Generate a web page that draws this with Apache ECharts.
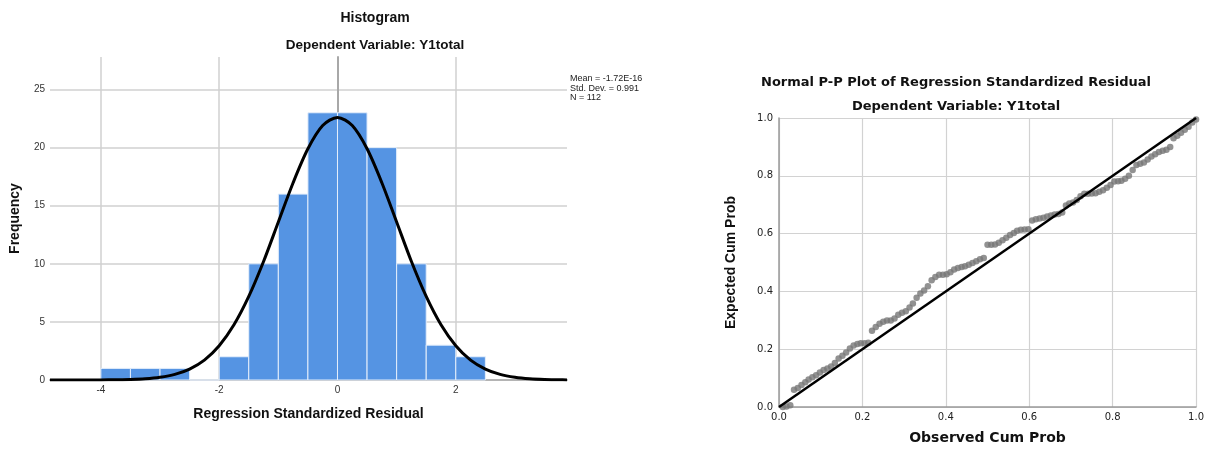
<!DOCTYPE html>
<html>
<head>
<meta charset="utf-8">
<script src="https://cdn.jsdelivr.net/npm/echarts@6/dist/echarts.min.js"></script>
<style>
html,body{margin:0;padding:0;background:#fff;}
#chart{width:1207px;height:450px;}
</style>
</head>
<body>
<div id="chart"></div>
<script>
// ---------- Histogram data ----------
const binStart = [-4, -3.5, -3, -2.5, -2, -1.5, -1, -0.5, 0, 0.5, 1, 1.5, 2];
const binEnd   = [-3.5, -3, -2.5, -2, -1.5, -1, -0.5, 0, 0.5, 1, 1.5, 2, 2.5];
const frequency = [1, 1, 1, 0, 2, 10, 16, 23, 23, 20, 10, 3, 2];
const histXTicks = [-4, -2, 0, 2];
const histYTicks = [5, 10, 15, 20, 25];

// normal curve
const curveX = [-4.86, -4.5, -4.25, -4, -3.75, -3.5, -3.25, -3, -2.75, -2.5, -2.25, -2, -1.75, -1.5, -1.25, -1, -0.75, -0.5, -0.25, 0,
                0.25, 0.5, 0.75, 1, 1.25, 1.5, 1.75, 2, 2.25, 2.5, 2.75, 3, 3.25, 3.5, 3.75, 3.88];
const curveY = [0.00, 0.00, 0.00, 0.01, 0.02, 0.04, 0.10, 0.23, 0.48, 0.94, 1.71, 2.95, 4.75, 7.19, 10.2, 13.6, 16.98, 19.9, 21.9, 22.6,
                21.9, 19.9, 16.98, 13.6, 10.2, 7.19, 4.75, 2.95, 1.71, 0.94, 0.48, 0.23, 0.10, 0.04, 0.02, 0.01];

const statsLines = ['Mean = -1.72E-16', 'Std. Dev. = 0.991', 'N = 112'];

// ---------- P-P plot data ----------
const observedCumProb = [
 0.009,0.018,0.027,0.036,0.045,0.054,0.063,0.071,0.080,0.089,
 0.098,0.107,0.116,0.125,0.134,0.143,0.152,0.161,0.170,0.179,
 0.188,0.196,0.205,0.214,0.223,0.232,0.241,0.250,0.259,0.268,
 0.277,0.286,0.295,0.304,0.313,0.321,0.330,0.339,0.348,0.357,
 0.366,0.375,0.384,0.393,0.402,0.411,0.420,0.429,0.438,0.446,
 0.455,0.464,0.473,0.482,0.491,0.500,0.509,0.518,0.527,0.536,
 0.545,0.554,0.563,0.571,0.580,0.589,0.598,0.607,0.616,0.625,
 0.634,0.643,0.652,0.661,0.670,0.679,0.688,0.696,0.705,0.714,
 0.723,0.732,0.741,0.750,0.759,0.768,0.777,0.786,0.795,0.804,
 0.813,0.821,0.830,0.839,0.848,0.857,0.866,0.875,0.884,0.893,
 0.902,0.911,0.920,0.929,0.938,0.946,0.955,0.964,0.973,0.982,
 0.991,1.000];
const expectedCumProb = [
 0.000,0.002,0.006,0.060,0.066,0.076,0.086,0.095,0.103,0.110,
 0.119,0.128,0.133,0.140,0.152,0.168,0.177,0.189,0.202,0.213,
 0.218,0.221,0.221,0.222,0.264,0.277,0.288,0.295,0.299,0.299,
 0.306,0.319,0.326,0.331,0.344,0.358,0.378,0.393,0.403,0.418,
 0.439,0.450,0.458,0.458,0.459,0.466,0.476,0.481,0.484,0.487,
 0.492,0.498,0.504,0.511,0.516,0.561,0.561,0.562,0.568,0.577,
 0.586,0.595,0.602,0.610,0.613,0.614,0.615,0.645,0.650,0.652,
 0.655,0.659,0.663,0.666,0.668,0.673,0.697,0.704,0.708,0.716,
 0.729,0.738,0.738,0.739,0.740,0.745,0.750,0.759,0.768,0.780,
 0.781,0.783,0.790,0.800,0.820,0.837,0.842,0.846,0.856,0.867,
 0.875,0.882,0.887,0.890,0.900,0.930,0.939,0.949,0.959,0.970,
 0.984,0.995];
const refLine = [[0, 0], [1, 1]];

// ---------- build ----------
const histData = binStart.map((s, i) => [s, binEnd[i], frequency[i]]);
const curveData = curveX.map((x, i) => [x, curveY[i]]);
const ppData = observedCumProb.map((x, i) => [x, expectedCumProb[i]]);
const gridMarks = histYTicks.map(v => ({ yAxis: v })).concat(histXTicks.map(v => ({ xAxis: v })));

const SANS = '"Liberation Sans", Arial, sans-serif';
const WIDE = '"DejaVu Sans", sans-serif';
const NARROW = '"Liberation Sans Narrow", "Arial Narrow", "Liberation Sans", sans-serif';

const chart = echarts.init(document.getElementById('chart'), null, { renderer: 'canvas' });

const option = {
  animation: false,
  backgroundColor: '#fff',
  grid: [
    { left: 50, top: 57, width: 517, height: 323 },
    { left: 779, top: 118, width: 420, height: 293 }
  ],
  xAxis: [
    {
      type: 'value', gridIndex: 0, min: -4.86, max: 3.88, splitNumber: 4,
      name: 'Regression Standardized Residual', nameLocation: 'middle', nameGap: 27,
      nameTextStyle: { fontFamily: SANS, fontWeight: 'bold', fontSize: 14, color: '#111' },
      axisLine: { show: true, onZero: false, lineStyle: { color: '#b4b4b4', width: 2 } },
      axisTick: { show: false },
      splitLine: { show: false },
      axisLabel: {
        margin: 5, fontFamily: SANS, fontSize: 10, color: '#333',
        formatter: v => (histXTicks.indexOf(v) >= 0 ? String(v) : '')
      }
    },
    {
      type: 'value', gridIndex: 1, min: 0, max: 1, interval: 0.2,
      name: 'Observed Cum Prob', nameLocation: 'middle', nameGap: 24,
      nameTextStyle: { fontFamily: WIDE, fontWeight: 'bold', fontSize: 14, color: '#111' },
      axisLine: { show: true, lineStyle: { color: '#9a9a9a', width: 1.5 } },
      axisTick: { show: false },
      splitLine: { show: true, lineStyle: { color: '#d2d2d2', width: 1.2 } },
      axisLabel: { margin: 5, fontFamily: WIDE, fontSize: 10, color: '#222', formatter: v => v.toFixed(1) }
    }
  ],
  yAxis: [
    {
      type: 'value', gridIndex: 0, min: 0, max: 27.8, interval: 5,
      name: 'Frequency', nameLocation: 'middle', nameGap: 28, nameRotate: 90,
      nameTextStyle: { fontFamily: SANS, fontWeight: 'bold', fontSize: 14, color: '#111' },
      axisLine: { show: true, lineStyle: { color: '#a8a8a8', width: 2 } },
      axisTick: { show: false },
      splitLine: { show: false },
      axisLabel: {
        margin: 5, fontFamily: SANS, fontSize: 10, color: '#333',
        formatter: v => (v % 5 === 0 ? String(v) : '')
      }
    },
    {
      type: 'value', gridIndex: 1, min: 0, max: 1, interval: 0.2,
      name: 'Expected Cum Prob', nameLocation: 'middle', nameGap: 41, nameRotate: 90,
      nameTextStyle: { fontFamily: NARROW, fontWeight: 'bold', fontSize: 14, color: '#111' },
      axisLine: { show: true, lineStyle: { color: '#9a9a9a', width: 1.5 } },
      axisTick: { show: false },
      splitLine: { show: true, lineStyle: { color: '#d2d2d2', width: 1.2 } },
      axisLabel: { margin: 6, fontFamily: WIDE, fontSize: 10, color: '#222', formatter: v => v.toFixed(1) }
    }
  ],
  series: [
    {
      type: 'line', xAxisIndex: 0, yAxisIndex: 0, data: [], z: 0, silent: true,
      markLine: {
        silent: true, symbol: 'none', label: { show: false }, z: 0,
        lineStyle: { color: '#d0d0d0', width: 1.5, type: 'solid' },
        data: gridMarks
      }
    },
    {
      type: 'custom', xAxisIndex: 0, yAxisIndex: 0, z: 2,
      data: histData,
      encode: { x: [0, 1], y: 2 },
      renderItem: function (params, api) {
        const p0 = api.coord([api.value(0), api.value(2)]);
        const p1 = api.coord([api.value(1), 0]);
        return {
          type: 'rect',
          shape: { x: p0[0], y: p0[1], width: p1[0] - p0[0], height: p1[1] - p0[1] },
          style: { fill: '#5594e3', stroke: '#e4eefb', lineWidth: 1 }
        };
      }
    },
    {
      type: 'line', xAxisIndex: 0, yAxisIndex: 0, z: 3,
      data: curveData, smooth: 0.3, showSymbol: false,
      lineStyle: { color: '#000', width: 3 }
    },
    {
      type: 'scatter', xAxisIndex: 1, yAxisIndex: 1, z: 2,
      data: ppData, symbolSize: 6.5,
      itemStyle: { color: '#777777' }
    },
    {
      type: 'line', xAxisIndex: 1, yAxisIndex: 1, z: 3,
      data: refLine, showSymbol: false,
      lineStyle: { color: '#000', width: 2.5 }
    }
  ],
  graphic: [
    { type: 'text', x: 375, y: 18, style: { text: 'Histogram', align: 'center', verticalAlign: 'middle', font: 'bold 14px "Liberation Sans", Arial, sans-serif', fill: '#111' } },
    { type: 'text', x: 375, y: 45, style: { text: 'Dependent Variable: Y1total', align: 'center', verticalAlign: 'middle', font: 'bold 13.5px "Liberation Sans", Arial, sans-serif', fill: '#111' } },
    { type: 'text', x: 570, y: 74, style: { text: statsLines.join('\n'), align: 'left', verticalAlign: 'top', lineHeight: 9.5, font: '9px "Liberation Sans", Arial, sans-serif', fill: '#222' } },
    { type: 'text', x: 956, y: 83, style: { text: 'Normal P-P Plot of Regression Standardized Residual', align: 'center', verticalAlign: 'middle', font: 'bold 13px "DejaVu Sans", sans-serif', fill: '#111' } },
    { type: 'text', x: 956, y: 107, style: { text: 'Dependent Variable: Y1total', align: 'center', verticalAlign: 'middle', font: 'bold 13px "DejaVu Sans", sans-serif', fill: '#111' } }
  ]
};
chart.setOption(option);
</script>
</body>
</html>
